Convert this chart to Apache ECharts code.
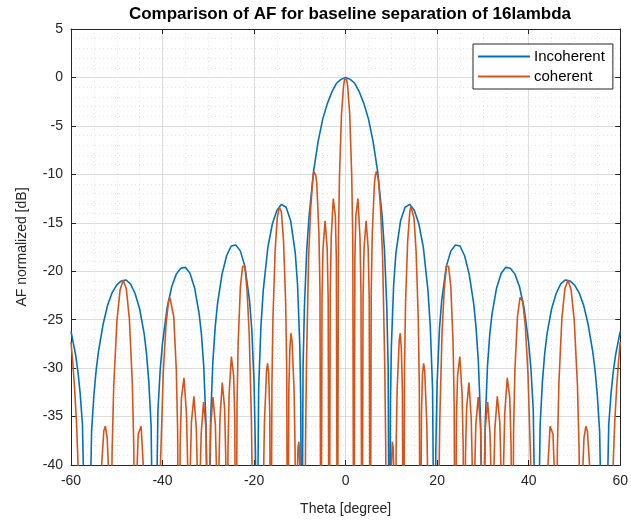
<!DOCTYPE html>
<html>
<head>
<meta charset="utf-8">
<script src="https://cdn.jsdelivr.net/npm/echarts@6/dist/echarts.min.js"></script>
<style>
html,body{margin:0;padding:0;background:#fff;}
#chart{width:631px;height:522px;}
</style>
</head>
<body>
<div id="chart"></div>
<script>
const chartTitle = 'Comparison of AF for baseline separation of 16lambda';
const xName = 'Theta [degree]';
const yName = 'AF normalized [dB]';
const seriesNames = ['Incoherent', 'coherent'];
const xTicks = { min: -60, max: 60, step: 20 };
const yTicks = { min: -40, max: 5, step: 5 };

// Incoherent AF [theta (deg), dB]
const incoherentPoints = [
[-60,-26.2],[-59,-28.6],[-58.5,-30.3],[-58,-32.6],[-57.5,-35.8],[-56.44,-60],[-55.5,-36.5],[-55,-32.8],[-54.5,-30.2],[-54,-28.3],
[-53,-25.5],[-52,-23.5],[-51,-22.2],[-50,-21.4],[-49,-21.0],[-48,-20.9],[-47,-21.3],[-46,-22.3],[-45,-23.9],[-44,-26.5],
[-43.5,-28.5],[-43,-31.4],[-42.5,-35.9],[-41.81,-60],[-41,-34.3],[-40.5,-30.1],[-40,-27.4],[-39,-23.8],[-38,-21.6],[-37,-20.3],
[-36,-19.7],[-35,-19.6],[-34,-20.2],[-33,-21.7],[-32,-24.4],[-31.5,-26.5],[-31,-29.8],[-30.5,-35.7],[-30,-60],[-29.5,-35.4],
[-29,-29.3],[-28.5,-25.8],[-28,-23.4],[-27,-20.3],[-26,-18.4],[-25,-17.4],[-24,-17.3],[-23,-17.9],[-22,-19.5],[-21,-23.0],
[-20.5,-26.0],[-20,-31.5],[-19.7,-38.6],[-19.47,-60],[-19,-32.1],[-18.5,-25.7],[-18,-22.0],[-17,-17.6],[-16,-15.1],[-15,-13.7],
[-14,-13.1],[-13,-13.4],[-12,-14.8],[-11,-18.1],[-10.5,-21.4],[-10,-27.8],[-9.8,-33.5],[-9.59,-60],[-9.3,-30.0],[-9,-23.7],
[-8.5,-17.9],[-8,-14.4],[-7,-9.7],[-6,-6.6],[-5,-4.3],[-4,-2.7],[-3,-1.5],[-2,-0.6],[-1,-0.2],[0,0],
[1,-0.2],[2,-0.6],[3,-1.5],[4,-2.7],[5,-4.3],[6,-6.6],[7,-9.7],[8,-14.4],[8.5,-17.9],[9,-23.7],
[9.3,-30.0],[9.59,-60],[9.8,-33.5],[10,-27.8],[10.5,-21.4],[11,-18.1],[12,-14.8],[13,-13.4],[14,-13.1],[15,-13.7],
[16,-15.1],[17,-17.6],[18,-22.0],[18.5,-25.7],[19,-32.1],[19.47,-60],[19.7,-38.6],[20,-31.5],[20.5,-26.0],[21,-23.0],
[22,-19.5],[23,-17.9],[24,-17.3],[25,-17.4],[26,-18.4],[27,-20.3],[28,-23.4],[28.5,-25.8],[29,-29.3],[29.5,-35.4],
[30,-60],[30.5,-35.7],[31,-29.8],[31.5,-26.5],[32,-24.4],[33,-21.7],[34,-20.2],[35,-19.6],[36,-19.7],[37,-20.3],
[38,-21.6],[39,-23.8],[40,-27.4],[40.5,-30.1],[41,-34.3],[41.81,-60],[42.5,-35.9],[43,-31.4],[43.5,-28.5],[44,-26.5],
[45,-23.9],[46,-22.3],[47,-21.3],[48,-20.9],[49,-21.0],[50,-21.4],[51,-22.2],[52,-23.5],[53,-25.5],[54,-28.3],
[54.5,-30.2],[55,-32.8],[55.5,-36.5],[56.44,-60],[57.5,-35.8],[58,-32.6],[58.5,-30.3],[59,-28.6],[60,-26.2]
];

// Coherent AF [theta (deg), dB]
const coherentPoints = [
[-60,-27.3],[-59.6,-29.5],[-59.24,-31.9],[-58.8,-35.6],[-58.38,-40.9],[-57.97,-49],[-57.54,-60],[-56.44,-60],
[-54.34,-60],[-53.96,-48.4],[-53.58,-42.0],[-52.83,-36.5],[-52.5,-36.0],[-52.09,-37.2],[-51.73,-41.4],
[-51.38,-60],[-51.02,-38.6],[-50.66,-31.8],[-49.96,-25.1],[-49.27,-21.9],[-48.59,-20.9],[-47.92,-21.8],[-47.25,-24.9],[-46.6,-31.6],[-46.27,-38.4],
[-45.95,-60],[-45.63,-41.0],[-45.31,-36.8],[-44.68,-36.0],[-44.06,-41.3],[-43.74,-47.9],[-43.43,-60],[-41.81,-60],
[-41.01,-60],[-40.71,-50],[-40.42,-39.4],[-39.84,-30.5],[-39.26,-25.6],[-38.68,-23.1],[-38.4,-22.7],[-38.11,-22.7],[-37.55,-24.7],[-36.99,-30.2],[-36.7,-36.5],
[-36.43,-60],[-36.15,-37.9],[-35.87,-33.1],[-35.32,-31.0],[-34.77,-34.7],[-34.5,-40.2],
[-34.23,-60],[-33.96,-40.6],[-33.69,-35.6],[-33.15,-32.9],[-32.62,-36.2],[-32.35,-41.6],
[-32.09,-60],[-31.83,-42.0],[-31.56,-36.8],[-31.04,-33.5],[-30.52,-36.2],[-30.26,-41.5],
[-30,-60],[-29.74,-41.4],[-29.48,-36.0],[-28.98,-33.0],[-28.46,-35.8],[-28.21,-40.5],
[-27.95,-60],[-27.7,-40.7],[-27.45,-35.2],[-26.95,-31.5],[-26.44,-34.1],[-26.19,-39.1],
[-25.94,-60],[-25.7,-38.4],[-25.45,-32.7],[-24.96,-28.8],[-24.46,-30.8],[-24.21,-35.4],
[-23.97,-60],[-23.72,-33.8],[-23.48,-27.4],[-22.99,-21.6],[-22.5,-19.5],[-22.26,-19.3],[-22.02,-19.5],[-21.54,-21.9],[-21.06,-26.5],[-20.58,-35.3],[-20.34,-43.8],
[-20.11,-60],[-19.47,-60],
[-18.21,-60],[-17.97,-42.2],[-17.74,-35.7],[-17.27,-30.2],[-17.05,-29.5],[-16.8,-30.6],[-16.57,-34.7],
[-16.33,-60],[-16.1,-31.8],[-15.87,-24.8],[-15.4,-17.9],[-14.94,-14.5],[-14.48,-13.4],[-14.25,-13.3],[-14.02,-13.9],[-13.56,-16.9],[-13.1,-23.2],[-12.87,-30.0],
[-12.64,-60],[-12.41,-32.4],[-12.18,-28.0],[-11.95,-26.4],[-11.72,-27.1],[-11.26,-32.2],[-11.04,-38.3],
[-10.81,-60],[-10.6,-41.9],[-10.4,-38.2],[-10.2,-37.6],[-9.9,-41.5],[-9.59,-60],
[-8.99,-60],[-8.76,-37.8],[-8.54,-29.3],[-8.08,-18.5],[-7.63,-13.5],[-7.18,-10.6],[-6.96,-9.7],[-6.73,-9.7],[-6.5,-10.1],[-6.28,-11.1],[-5.83,-16.1],[-5.6,-22.0],
[-5.38,-60],[-5.16,-22.8],[-4.93,-17.6],[-4.48,-14.8],[-4.03,-17.6],[-3.81,-22.8],
[-3.58,-60],[-3.36,-22.2],[-3.14,-16.5],[-2.69,-12.5],[-2.24,-14.3],[-2.02,-18.8],
[-1.79,-60],[-1.57,-16.8],[-1.34,-10.2],[-0.9,-3.8],[-0.45,-0.9],[-0.22,-0.2],[0,0],
[0.22,-0.2],[0.45,-0.9],[0.9,-3.8],[1.34,-10.2],[1.57,-16.8],[1.79,-60],
[2.02,-18.8],[2.24,-14.3],[2.69,-12.5],[3.14,-16.5],[3.36,-22.2],[3.58,-60],
[3.81,-22.8],[4.03,-17.6],[4.48,-14.8],[4.93,-17.6],[5.16,-22.8],[5.38,-60],
[5.6,-22.0],[5.83,-16.1],[6.28,-11.1],[6.5,-10.1],[6.73,-9.7],[6.96,-9.7],[7.18,-10.6],[7.63,-13.5],[8.08,-18.5],[8.54,-29.3],[8.76,-37.8],[8.99,-60],
[9.59,-60],[9.9,-41.5],[10.2,-37.6],[10.4,-38.2],[10.6,-41.9],[10.81,-60],
[11.04,-38.3],[11.26,-32.2],[11.72,-27.1],[11.95,-26.4],[12.18,-28.0],[12.41,-32.4],[12.64,-60],
[12.87,-30.0],[13.1,-23.2],[13.56,-16.9],[14.02,-13.9],[14.25,-13.3],[14.48,-13.4],[14.94,-14.5],[15.4,-17.9],[15.87,-24.8],[16.1,-31.8],[16.33,-60],
[16.57,-34.7],[16.8,-30.6],[17.05,-29.5],[17.27,-30.2],[17.74,-35.7],[17.97,-42.2],[18.21,-60],
[19.47,-60],[20.11,-60],
[20.34,-43.8],[20.58,-35.3],[21.06,-26.5],[21.54,-21.9],[22.02,-19.5],[22.26,-19.3],[22.5,-19.5],[22.99,-21.6],[23.48,-27.4],[23.72,-33.8],[23.97,-60],
[24.21,-35.4],[24.46,-30.8],[24.96,-28.8],[25.45,-32.7],[25.7,-38.4],[25.94,-60],
[26.19,-39.1],[26.44,-34.1],[26.95,-31.5],[27.45,-35.2],[27.7,-40.7],[27.95,-60],
[28.21,-40.5],[28.46,-35.8],[28.98,-33.0],[29.48,-36.0],[29.74,-41.4],[30,-60],
[30.26,-41.5],[30.52,-36.2],[31.04,-33.5],[31.56,-36.8],[31.83,-42.0],[32.09,-60],
[32.35,-41.6],[32.62,-36.2],[33.15,-32.9],[33.69,-35.6],[33.96,-40.6],[34.23,-60],
[34.5,-40.2],[34.77,-34.7],[35.32,-31.0],[35.87,-33.1],[36.15,-37.9],[36.43,-60],
[36.7,-36.5],[36.99,-30.2],[37.55,-24.7],[38.11,-22.7],[38.4,-22.7],[38.68,-23.1],[39.26,-25.6],[39.84,-30.5],[40.42,-39.4],[40.71,-50],[41.01,-60],
[41.81,-60],[43.43,-60],
[43.74,-47.9],[44.06,-41.3],[44.68,-36.0],[45.31,-36.8],[45.63,-41.0],[45.95,-60],
[46.27,-38.4],[46.6,-31.6],[47.25,-24.9],[47.92,-21.8],[48.59,-20.9],[49.27,-21.9],[49.96,-25.1],[50.66,-31.8],[51.02,-38.6],[51.38,-60],
[51.73,-41.4],[52.09,-37.2],[52.5,-36.0],[52.83,-36.5],[53.58,-42.0],[53.96,-48.4],[54.34,-60],
[56.44,-60],[57.54,-60],
[57.97,-49],[58.38,-40.9],[58.8,-35.6],[59.24,-31.9],[59.6,-29.5],[60,-27.3]
];

const colors = ['#0072BD', '#D95319'];
const FONT = 'Liberation Sans, Arial, sans-serif';
const axisDark = '#262626';

const chart = echarts.init(document.getElementById('chart'), null, { renderer: 'canvas' });

function baseX(extra) {
  return Object.assign({
    type: 'value', min: xTicks.min, max: xTicks.max, interval: xTicks.step,
    axisLine: { show: true, onZero: false, lineStyle: { color: axisDark, width: 1 } },
    axisTick: { show: true, inside: true, length: 5, lineStyle: { color: axisDark } },
    minorTick: { show: false, splitNumber: 4 },
    splitLine: { show: false },
    minorSplitLine: { show: false }
  }, extra);
}
function baseY(extra) {
  return Object.assign({
    type: 'value', min: yTicks.min, max: yTicks.max, interval: yTicks.step,
    axisLine: { show: true, onZero: false, lineStyle: { color: axisDark, width: 1 } },
    axisTick: { show: true, inside: true, length: 5, lineStyle: { color: axisDark } },
    minorTick: { show: false, splitNumber: 5 },
    splitLine: { show: false },
    minorSplitLine: { show: false }
  }, extra);
}

chart.setOption({
  animation: false,
  backgroundColor: '#ffffff',
  title: {
    text: chartTitle, left: 345, textAlign: 'center', top: 1,
    textStyle: { fontFamily: FONT, fontSize: 17, fontWeight: 'bold', color: '#000' }
  },
  legend: {
    data: seriesNames, orient: 'vertical', left: 473, top: 44,
    icon: 'rect', itemWidth: 52, itemHeight: 2, itemGap: 5,
    backgroundColor: '#ffffff', borderColor: axisDark, borderWidth: 1,
    padding: [5, 8, 5, 5],
    textStyle: { fontFamily: FONT, fontSize: 15, color: '#000', padding: [0, 0, 0, -1] }
  },
  grid: { left: 71, right: 4, top: 29, bottom: 57, show: false },
  xAxis: [
    baseX({
      position: 'bottom',
      name: xName, nameLocation: 'middle', nameGap: 37,
      nameTextStyle: { fontFamily: FONT, fontSize: 14, color: axisDark },
      axisLabel: { show: true, fontFamily: FONT, fontSize: 14, color: axisDark, margin: 9 },
      splitLine: { show: true, lineStyle: { color: '#dcdcdc', width: 1 } },
      minorSplitLine: { show: true, lineStyle: { color: '#e2e2e2', width: 1, type: [1, 3] } }
    }),
    baseX({ position: 'top', axisLabel: { show: false } })
  ],
  yAxis: [
    baseY({
      position: 'left',
      name: yName, nameLocation: 'middle', nameGap: 42, nameRotate: 90,
      nameTextStyle: { fontFamily: FONT, fontSize: 14, color: axisDark },
      axisLabel: { show: true, fontFamily: FONT, fontSize: 14, color: axisDark, margin: 8 },
      splitLine: { show: true, lineStyle: { color: '#dcdcdc', width: 1 } },
      minorSplitLine: { show: true, lineStyle: { color: '#e2e2e2', width: 1, type: [1, 3] } }
    }),
    baseY({ position: 'right', axisLabel: { show: false } })
  ],
  series: [
    {
      name: seriesNames[0], type: 'line', data: incoherentPoints,
      xAxisIndex: 0, yAxisIndex: 0, showSymbol: false, symbol: 'none',
      lineStyle: { color: colors[0], width: 1.6 }, itemStyle: { color: colors[0] },
      clip: true, z: 3
    },
    {
      name: seriesNames[1], type: 'line', data: coherentPoints,
      xAxisIndex: 0, yAxisIndex: 0, showSymbol: false, symbol: 'none',
      lineStyle: { color: colors[1], width: 1.6 }, itemStyle: { color: colors[1] },
      clip: true, z: 4
    }
  ]
});
</script>
</body>
</html>
